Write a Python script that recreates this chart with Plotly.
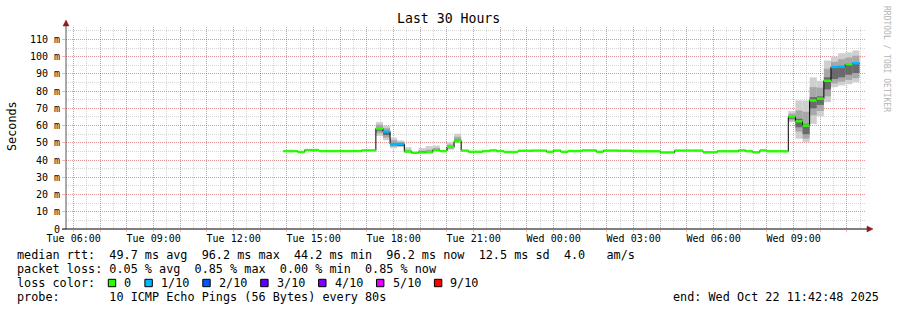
import plotly.graph_objects as go
from datetime import datetime, timedelta

# ---------------- data ----------------
range_start = "2025-10-21 05:42:48"
range_end = "2025-10-22 11:42:48"
first_step = "2025-10-21 13:52:00"
step_minutes = 16

# median rtt per 16-minute step (ms)
median_ms = [
    45.2, 45.2, 44.7, 45.8, 45.8, 45.2, 45.2, 45.2, 45.2, 45.2,
    45.2, 45.6, 45.6, 58.2, 56.5, 49.3, 49.3, 44.9, 44.2, 44.4,
    44.6, 45.8, 45.2, 47.6, 50.9, 45.5, 44.8, 44.8, 45.2, 45.6,
    45.2, 44.7, 44.7, 45.4, 45.4, 45.5, 45.5, 44.8, 45.5, 44.8,
    45.2, 45.2, 45.6, 45.6, 44.8, 45.5, 45.5, 45.4, 45.4, 45.1,
    45.1, 45.1, 45.1, 44.4, 44.4, 45.5, 45.5, 45.5, 45.5, 44.5,
    44.5, 45.1, 45.1, 45.1, 45.6, 45.1, 44.5, 45.6, 45.1, 45.1,
    45.1, 65.2, 62.5, 60.0, 74.6, 75.6, 86.0, 94.0, 94.2, 95.6,
    96.2,
]
# lost pings out of 10 per step
loss_tenths = [
    0, 0, 0, 0, 0, 0, 0, 0, 0, 0,
    0, 0, 0, 0, 1, 1, 1, 0, 0, 0,
    0, 0, 0, 0, 0, 0, 0, 0, 0, 0,
    0, 0, 0, 0, 0, 0, 0, 0, 0, 0,
    0, 0, 0, 0, 0, 0, 0, 0, 0, 0,
    0, 0, 0, 0, 0, 0, 0, 0, 0, 0,
    0, 0, 0, 0, 0, 0, 0, 0, 0, 0,
    0, 0, 0, 0, 0, 0, 0, 1, 1, 0,
    1,
]
# smoke (ping spread) for the steps that show it
smoke_steps = [13, 14, 15, 16, 17, 19, 20, 21, 23, 24,
               71, 72, 73, 74, 75, 76, 77, 78, 79, 80]
smoke_min = [54.0, 51.5, 46.8, 47.5, 44.6, 44.2, 44.4, 45.5, 46.0, 49.9,
             62.0, 52.4, 50.5, 61.0, 65.4, 73.6, 82.3, 83.3, 84.0, 85.2]
smoke_lo = [55.5, 53.0, 47.8, 48.0, 44.8, 44.3, 44.5, 45.6, 46.5, 50.3,
            63.0, 56.5, 52.5, 66.0, 68.5, 77.0, 84.5, 85.5, 86.5, 87.5]
smoke_core_lo = [57.0, 54.5, 48.5, 48.6, 44.9, 44.4, 44.6, 45.7, 47.0, 50.6,
                 64.0, 59.0, 55.0, 70.0, 72.0, 81.0, 87.0, 88.0, 89.5, 90.5]
smoke_core_hi = [58.6, 56.8, 49.8, 49.6, 45.2, 44.7, 44.9, 46.1, 47.9, 51.8,
                 65.6, 64.0, 61.0, 76.5, 77.0, 88.0, 93.5, 94.0, 95.5, 96.5]
smoke_hi = [60.5, 58.5, 51.5, 50.5, 46.0, 45.5, 46.0, 47.0, 49.0, 53.5,
            67.0, 68.8, 68.0, 82.3, 82.0, 93.0, 97.0, 98.5, 99.5, 100.5]
smoke_max = [62.0, 60.0, 53.0, 51.4, 47.5, 47.0, 48.1, 48.4, 50.4, 55.3,
             68.4, 74.6, 74.6, 88.0, 86.0, 97.8, 100.1, 102.0, 102.5, 103.6]

y_tick_values = [0, 10, 20, 30, 40, 50, 60, 70, 80, 90, 100, 110]
y_tick_labels = ["0", "10 m", "20 m", "30 m", "40 m", "50 m", "60 m",
                 "70 m", "80 m", "90 m", "100 m", "110 m"]

loss_labels = ["0", "1/10", "2/10", "3/10", "4/10", "5/10", "9/10"]
loss_levels = [0, 1, 2, 3, 4, 5, 9]
loss_colors = ["#26ff00", "#00b8ff", "#0059ff", "#5e00ff", "#7e00ff", "#dd00ff", "#ff0000"]

title_text = "Last 30 Hours"
y_title = "Seconds"
line_rtt = "median rtt:  49.7 ms avg  96.2 ms max  44.2 ms min  96.2 ms now  12.5 ms sd  4.0   am/s"
line_loss = "packet loss: 0.05 % avg  0.85 % max  0.00 % min  0.85 % now"
line_color = "loss color:"
line_probe = "probe:       10 ICMP Echo Pings (56 Bytes) every 80s"
line_end = "end: Wed Oct 22 11:42:48 2025"
watermark = "RRDTOOL / TOBI OETIKER"

# ---------------- geometry ----------------
W, H = 897, 310
L, R, T, B = 66, 31, 27, 81
PW, PH = W - L - R, H - T - B
PLOT_BOTTOM = H - B
Y_MAX = 117.2
FONT = "DejaVu Sans Mono"
MAJOR = "rgba(255,0,0,0.30)"
MINOR = "rgba(128,128,128,0.32)"
DASH = "1px,1px"


def px(x):
    return (x - L) / PW


def py(y):
    return (PLOT_BOTTOM - y) / PH


def nb(s):
    return s.replace(" ", "\u00a0")


t0 = datetime.strptime(first_step, "%Y-%m-%d %H:%M:%S")
dt = timedelta(minutes=step_minutes)
n = len(median_ms)
edges = [t0 + i * dt for i in range(n + 1)]
centers = [t0 + (i + 0.5) * dt for i in range(n)]
step_ms = step_minutes * 60 * 1000

fig = go.Figure()

# smoke bands
bands = [
    (smoke_min, smoke_max, "#cfcfcf"),
    (smoke_lo, smoke_hi, "#a8a8a8"),
    (smoke_core_lo, smoke_core_hi, "#6a6a6a"),
]
for lo, hi, col in bands:
    fig.add_trace(go.Bar(
        x=[centers[k] for k in smoke_steps],
        base=lo,
        y=[h - l for l, h in zip(lo, hi)],
        width=step_ms,
        marker=dict(color=col, line=dict(width=0)),
        hoverinfo="skip",
    ))

# black median step line
fig.add_trace(go.Scatter(
    x=edges, y=median_ms + [median_ms[-1]],
    mode="lines", line=dict(color="black", width=1, shape="hv"),
    hoverinfo="skip",
))

# loss-coloured median segments
for lvl, col in zip(loss_levels, loss_colors):
    xs, ys = [], []
    for k in range(n):
        if loss_tenths[k] == lvl:
            xs += [edges[k], edges[k + 1], None]
            ys += [median_ms[k], median_ms[k], None]
    if xs:
        fig.add_trace(go.Scatter(
            x=xs, y=ys, mode="lines",
            line=dict(color=col, width=2.4),
            hoverinfo="skip",
        ))

# x ticks: every hour (grid), labels every 3 hours
day0 = datetime(2025, 10, 21, 6, 0, 0)
hour_ticks, hour_text = [], []
for h in range(30):
    t = day0 + timedelta(hours=h)
    hour_ticks.append(t)
    hour_text.append(t.strftime("%a %H:%M") if t.hour % 3 == 0 else "")

fig.update_layout(
    width=W, height=H,
    margin=dict(l=L, r=R, t=T, b=B),
    paper_bgcolor="white", plot_bgcolor="white",
    showlegend=False, barmode="overlay",
    font=dict(family=FONT, size=10, color="black"),
)
fig.update_xaxes(
    type="date", range=[range_start, range_end],
    tickmode="array", tickvals=hour_ticks, ticktext=hour_text,
    showgrid=True, gridcolor=MAJOR, griddash=DASH, gridwidth=1,
    ticks="outside", ticklen=2, tickcolor=MAJOR,
    ticklabelstandoff=-2,
    showline=False, zeroline=False,
    tickfont=dict(family=FONT, size=10, color="black"),
    minor=dict(dtick=1800000, tick0="2025-10-21 06:30:00", showgrid=True,
               gridcolor=MINOR, griddash=DASH, gridwidth=1),
    fixedrange=True,
)
fig.update_yaxes(
    range=[0, Y_MAX],
    tickmode="array", tickvals=y_tick_values, ticktext=y_tick_labels,
    showgrid=True, gridcolor=MAJOR, griddash=DASH, gridwidth=1,
    ticks="outside", ticklen=3, tickcolor=MAJOR,
    showline=False, zeroline=False,
    tickfont=dict(family=FONT, size=10, color="black"),
    minor=dict(dtick=5, tick0=0, showgrid=True,
               gridcolor=MINOR, griddash=DASH, gridwidth=1),
    fixedrange=True,
)

shapes = []
# axes
shapes.append(dict(type="line", xref="paper", yref="paper",
                   x0=px(L), x1=px(L), y0=py(PLOT_BOTTOM), y1=py(25),
                   line=dict(color="#555555", width=1)))
shapes.append(dict(type="line", xref="paper", yref="paper",
                   x0=px(L - 4), x1=px(868), y0=0, y1=0,
                   line=dict(color="black", width=1)))
# arrows
ARROW = "#8c1c1c"
shapes.append(dict(type="path", xref="paper", yref="paper",
                   path=f"M {px(L-3)},{py(26)} L {px(L+3)},{py(26)} L {px(L)},{py(20)} Z",
                   fillcolor=ARROW, line=dict(color=ARROW, width=0.5)))
shapes.append(dict(type="path", xref="paper", yref="paper",
                   path=f"M {px(867)},{py(PLOT_BOTTOM-3)} L {px(867)},{py(PLOT_BOTTOM+3)} L {px(873)},{py(PLOT_BOTTOM)} Z",
                   fillcolor=ARROW, line=dict(color=ARROW, width=0.5)))

annotations = []


def text(x, y, s, size=11.8, anchor="left", color="black", angle=0):
    annotations.append(dict(
        x=px(x), y=py(y), xref="paper", yref="paper", text=nb(s),
        showarrow=False, xanchor=anchor, yanchor="middle", borderpad=0,
        textangle=angle, font=dict(family=FONT, size=size, color=color),
    ))


text(448, 19, title_text, size=13.2, anchor="center")
text(12, 126, y_title, size=11.8, anchor="center", angle=-90)
text(887, 59, watermark, size=8, anchor="center", color="#b4b4b4", angle=90)

LEFT = 16
CHAR = 7.1
text(LEFT, 254.7, line_rtt)
text(LEFT, 268.5, line_loss)
text(LEFT, 282.7, line_color)
text(LEFT, 296.7, line_probe)
text(880, 296.7, line_end, anchor="right")

xb = LEFT + 13 * CHAR
for lab, col in zip(loss_labels, loss_colors):
    shapes.append(dict(type="rect", xref="paper", yref="paper",
                       x0=px(xb), x1=px(xb + 7.4), y0=py(286.7), y1=py(279.3),
                       fillcolor=col, line=dict(color="black", width=1)))
    text(xb + 15, 282.7, lab)
    xb = xb + 15 + len(lab) * CHAR + 14.5

fig.update_layout(shapes=shapes, annotations=annotations)
fig.write_html("out.html")
